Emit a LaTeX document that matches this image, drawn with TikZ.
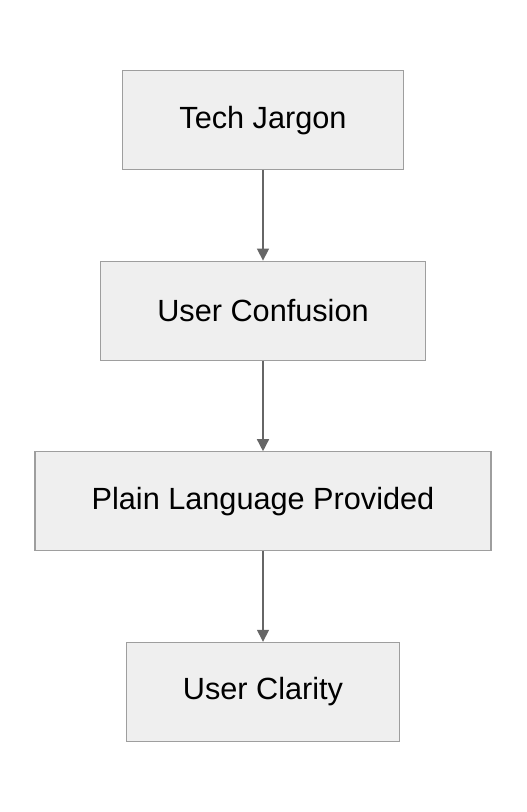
\documentclass[tikz,border=0pt]{standalone}
\usepackage{fontspec}
\setmainfont{Liberation Sans}
\usetikzlibrary{arrows.meta}
\usetikzlibrary{positioning}
\definecolor{boxfill}{HTML}{EFEFEF}
\definecolor{boxline}{HTML}{9E9E9E}
\definecolor{arrowline}{HTML}{666666}
\tikzset{
	stepbox/.style={
		rectangle,
		draw=boxline,
		fill=boxfill,
		line width=0.9pt,
		minimum height=74.25pt,
		inner xsep=42.5pt,
		font=\fontsize{23}{27}\selectfont,
		text centered,
	},
}

\begin{document}
\begin{tikzpicture}[-{Triangle[length=9pt,width=9pt]},draw=arrowline,line width=1.1pt]
	
	\useasboundingbox (0,0) rectangle (394.5pt,-609pt);
	
	\node[stepbox, anchor=north] (JARGON) at (197.25pt,-52.5pt)
	{Tech Jargon};
	
	\node[stepbox,
	below=67.8pt of JARGON] (CONFUSION)
	{User Confusion};
	
	\node[stepbox,
	below=67.8pt of CONFUSION] (PLAIN)
	{Plain Language Provided};
	
	\node[stepbox,
	below=67.8pt of PLAIN] (CLARITY)
	{User Clarity};
	
	\path
	(JARGON) edge (CONFUSION)
	(CONFUSION) edge (PLAIN)
	(PLAIN) edge (CLARITY);
	
\end{tikzpicture}
\end{document}
